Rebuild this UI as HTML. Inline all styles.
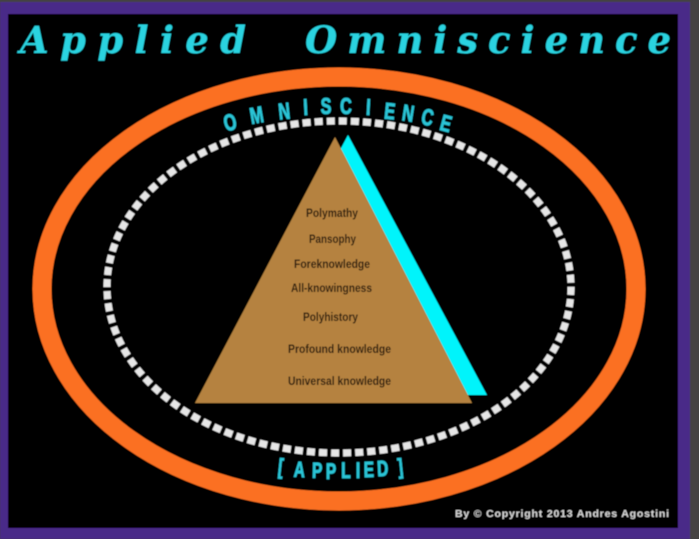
<!DOCTYPE html>
<html><head><meta charset="utf-8"><style>
html,body{margin:0;padding:0;background:#444}
svg{display:block}
.t{font-family:"DejaVu Serif",serif;font-weight:bold;font-style:italic;font-size:37px;fill:#2bd3e0}
.p{font-family:"Liberation Sans",sans-serif;font-weight:bold;font-size:12px;fill:#2c1b10}
.c{font-family:"Liberation Sans",sans-serif;font-weight:bold;font-size:23px;fill:#2bc4d6;text-anchor:middle;stroke:#2bc4d6;stroke-width:.7}
.a{font-size:22px}
</style></head><body>
<svg width="699" height="539" viewBox="0 0 699 539" xmlns="http://www.w3.org/2000/svg">
<defs><filter id="b" x="-5%" y="-5%" width="110%" height="110%"><feGaussianBlur stdDeviation="0.55"/></filter></defs>
<g filter="url(#b)">
<rect x="0" y="0" width="699" height="539" fill="#444342"/>
<rect x="0" y="2" width="690" height="537" fill="#4a2a88"/>
<rect x="8" y="14" width="670" height="514" fill="#000"/>
<text class="t" x="20" y="53" textLength="226" lengthAdjust="spacing">Applied</text>
<text class="t" x="305" y="53" textLength="366" lengthAdjust="spacing">Omniscience</text>
<ellipse cx="339" cy="289" rx="297" ry="212" fill="none" stroke="#fb6f24" stroke-width="19"/>
<ellipse cx="339" cy="287" rx="232" ry="166" fill="none" stroke="#e6e6e6" stroke-width="7" stroke-dasharray="8 4.1"/>
<polygon points="348,135 487,395 465,395 340,150" fill="#00f4fb"/>
<polygon points="335,137 472,403 195,403" fill="#b5823f"/>
<text class="p" x="306" y="217" textLength="52" lengthAdjust="spacingAndGlyphs">Polymathy</text>
<text class="p" x="309" y="243" textLength="47" lengthAdjust="spacingAndGlyphs">Pansophy</text>
<text class="p" x="294" y="268" textLength="76" lengthAdjust="spacingAndGlyphs">Foreknowledge</text>
<text class="p" x="291" y="292" textLength="81" lengthAdjust="spacingAndGlyphs">All-knowingness</text>
<text class="p" x="303" y="321" textLength="55" lengthAdjust="spacingAndGlyphs">Polyhistory</text>
<text class="p" x="288" y="353" textLength="103" lengthAdjust="spacingAndGlyphs">Profound knowledge</text>
<text class="p" x="288" y="385" textLength="103" lengthAdjust="spacingAndGlyphs">Universal knowledge</text>
<g>
<text class="c" transform="translate(232,130) rotate(-14) scale(.7,1)">O</text>
<text class="c" transform="translate(258,123) rotate(-10) scale(.7,1)">M</text>
<text class="c" transform="translate(285,119) rotate(-6) scale(.7,1)">N</text>
<text class="c" transform="translate(306,115) rotate(-3) scale(.7,1)">I</text>
<text class="c" transform="translate(326,114) scale(.7,1)">S</text>
<text class="c" transform="translate(346,114) scale(.7,1)">C</text>
<text class="c" transform="translate(368,115) rotate(3) scale(.7,1)">I</text>
<text class="c" transform="translate(389,119) rotate(6) scale(.7,1)">E</text>
<text class="c" transform="translate(407,121) rotate(9) scale(.7,1)">N</text>
<text class="c" transform="translate(426,125) rotate(12) scale(.7,1)">C</text>
<text class="c" transform="translate(444,131) rotate(15) scale(.7,1)">E</text>
<text class="c a" transform="translate(280,474) rotate(6) scale(.7,1)">[</text>
<text class="c a" transform="translate(299,477) rotate(3) scale(.7,1)">A</text>
<text class="c a" transform="translate(317,478) rotate(1) scale(.7,1)">P</text>
<text class="c a" transform="translate(331,479) scale(.7,1)">P</text>
<text class="c a" transform="translate(346,478) scale(.7,1)">L</text>
<text class="c a" transform="translate(358,478) scale(.7,1)">I</text>
<text class="c a" transform="translate(369,477) rotate(-1) scale(.7,1)">E</text>
<text class="c a" transform="translate(383,476) rotate(-3) scale(.7,1)">D</text>
<text class="c a" transform="translate(401,474) rotate(-6) scale(.7,1)">]</text>
</g>
<text x="455" y="517" textLength="214" font-family="Liberation Sans, sans-serif" font-weight="bold" font-size="10.5" fill="#d8d8d8">By © Copyright 2013 Andres Agostini</text>
</g>
</svg>
</body></html>
